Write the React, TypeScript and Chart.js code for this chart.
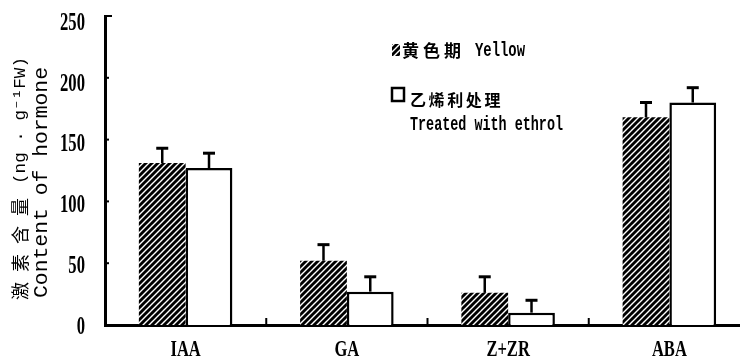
import React, { useEffect, useRef } from "react";
import { Chart, registerables } from "chart.js";

Chart.register(...registerables);

// Hormone content per category, yellow stage vs. ethrel-treated fruit
const categories = ["IAA", "GA", "Z+ZR", "ABA"];
const yellowValues = [131, 52, 26, 168];
const yellowErrors = [12, 13, 13, 12];
const ethrolValues = [127, 27, 10, 180];
const ethrolErrors = [12, 12, 10, 12];
const yTickValues = [0, 50, 100, 150, 200, 250];

const legendYellowCn = "黄色期";
const legendYellowEn = "Yellow";
const legendEthrolCn = "乙烯利处理";
const legendEthrolEn = "Treated with ethrol";
const yTitleCn = "激素含量";
const yTitleUnit = "(ng · g⁻¹FW)";
const yTitleEn = "Content of hormone";

const SERIF = '"Liberation Serif", "Times New Roman", serif';
const MONO = '"Liberation Mono", "DejaVu Sans Mono", monospace';
const CJK = '"Noto Sans CJK SC", sans-serif';

function makeHatch(): CanvasPattern | string {
  const tile = document.createElement("canvas");
  tile.width = 6;
  tile.height = 6;
  const c = tile.getContext("2d");
  if (!c) return "#000";
  c.fillStyle = "#000";
  c.fillRect(0, 0, 6, 6);
  c.strokeStyle = "#fff";
  c.lineWidth = 1.4;
  c.beginPath();
  c.moveTo(-1, 7);
  c.lineTo(7, -1);
  c.moveTo(-1, 1);
  c.lineTo(1, -1);
  c.moveTo(5, 7);
  c.lineTo(7, 5);
  c.stroke();
  const p = c.createPattern(tile, "repeat");
  return p || "#000";
}

// text squeezed horizontally by factor sx
function drawScaled(
  ctx: CanvasRenderingContext2D,
  text: string,
  x: number,
  y: number,
  font: string,
  sx: number,
  align: CanvasTextAlign
) {
  ctx.save();
  ctx.font = font;
  ctx.textAlign = align;
  ctx.textBaseline = "middle";
  ctx.translate(x, y);
  ctx.scale(sx, 1);
  ctx.fillText(text, 0, 0);
  ctx.restore();
}

// text fitted to a given width, starting at x
function drawFit(
  ctx: CanvasRenderingContext2D,
  text: string,
  x: number,
  y: number,
  font: string,
  width: number
) {
  ctx.save();
  ctx.font = font;
  const w = ctx.measureText(text).width || 1;
  ctx.textAlign = "left";
  ctx.textBaseline = "middle";
  ctx.translate(x, y);
  ctx.scale(width / w, 1);
  ctx.fillText(text, 0, 0);
  ctx.restore();
}

function drawSpacedChars(
  ctx: CanvasRenderingContext2D,
  text: string,
  x: number,
  y: number,
  font: string,
  step: number
) {
  ctx.save();
  ctx.font = font;
  ctx.textAlign = "left";
  ctx.textBaseline = "middle";
  Array.from(text).forEach((ch, i) => ctx.fillText(ch, x + i * step, y));
  ctx.restore();
}

export default function App() {
  const canvasRef = useRef<HTMLCanvasElement | null>(null);

  useEffect(() => {
    const canvas = canvasRef.current;
    if (!canvas) return;
    const hatch = makeHatch();

    const decorations = {
      id: "decorations",
      afterDatasetsDraw(chart: any) {
        const ctx: CanvasRenderingContext2D = chart.ctx;
        const xs = chart.scales.x;
        const ys = chart.scales.y;
        const area = chart.chartArea;
        ctx.save();
        ctx.fillStyle = "#000";
        ctx.strokeStyle = "#000";

        // error bars (upper half only)
        const errs = [yellowErrors, ethrolErrors];
        const vals = [yellowValues, ethrolValues];
        [0, 1].forEach((d) => {
          const meta = chart.getDatasetMeta(d);
          meta.data.forEach((el: any, i: number) => {
            const top = ys.getPixelForValue(vals[d][i]);
            const tip = ys.getPixelForValue(vals[d][i] + errs[d][i]);
            ctx.lineWidth = 2.5;
            ctx.beginPath();
            ctx.moveTo(el.x, top);
            ctx.lineTo(el.x, tip);
            ctx.stroke();
            ctx.lineWidth = 3;
            ctx.beginPath();
            ctx.moveTo(el.x - 6, tip);
            ctx.lineTo(el.x + 6, tip);
            ctx.stroke();
          });
        });

        // inward y ticks
        ctx.lineWidth = 2;
        yTickValues.forEach((v) => {
          if (v === 0) return;
          const y = ys.getPixelForValue(v);
          ctx.beginPath();
          ctx.moveTo(area.left, y);
          ctx.lineTo(area.left + (v === 250 ? 7 : 4), y);
          ctx.stroke();
        });

        // category separators on x axis
        for (let i = 0; i < categories.length - 1; i++) {
          const x = (xs.getPixelForTick(i) + xs.getPixelForTick(i + 1)) / 2;
          ctx.beginPath();
          ctx.moveTo(x, area.bottom);
          ctx.lineTo(x, area.bottom - 7);
          ctx.stroke();
        }

        // tick labels
        yTickValues.forEach((v) => {
          const y = ys.getPixelForValue(v);
          drawScaled(ctx, String(v), 85, y + 2 + 5 * (v / 250), "bold 26px " + SERIF, 0.64, "right");
        });
        categories.forEach((c, i) => {
          drawScaled(ctx, c, xs.getPixelForTick(i), 350, "bold 23px " + SERIF, 0.72, "center");
        });

        // legend
        ctx.fillStyle = hatch as any;
        ctx.fillRect(392, 44, 8, 12);
        ctx.fillStyle = "#000";
        drawSpacedChars(ctx, legendYellowCn, 402, 51, "bold 17px " + CJK, 21);
        drawFit(ctx, legendYellowEn, 475, 51, "bold 20px " + MONO, 50);
        ctx.lineWidth = 2.5;
        ctx.strokeRect(392, 88, 12, 13);
        drawSpacedChars(ctx, legendEthrolCn, 410, 100, "bold 16px " + CJK, 18.6);
        drawFit(ctx, legendEthrolEn, 410, 125, "bold 20px " + MONO, 153);

        // rotated y title
        ctx.save();
        ctx.rotate(-Math.PI / 2);
        // rotated frame: x' = -y, y' = x
        drawSpacedChars(ctx, yTitleCn, -300, 20, "18px " + CJK, 28);
        drawFit(ctx, yTitleUnit, -184, 20, "17px " + MONO, 127);
        drawFit(ctx, yTitleEn, -298, 42, "20px " + MONO, 231);
        ctx.restore();

        ctx.restore();
      },
    };

    const chart = new Chart(canvas, {
      type: "bar",
      data: {
        labels: categories,
        datasets: [
          {
            label: legendYellowCn + " " + legendYellowEn,
            data: yellowValues,
            backgroundColor: hatch as any,
            borderWidth: 0,
            categoryPercentage: 0.58,
            barPercentage: 1,
          },
          {
            label: legendEthrolCn + " " + legendEthrolEn,
            data: ethrolValues,
            backgroundColor: "#fff",
            borderColor: "#000",
            borderWidth: 2.5,
            borderSkipped: "bottom",
            categoryPercentage: 0.58,
            barPercentage: 1,
          },
        ],
      },
      options: {
        responsive: false,
        animation: false,
        layout: { padding: { top: 16, left: 0, right: 0, bottom: 0 } },
        plugins: {
          legend: { display: false },
          tooltip: { enabled: false },
        },
        scales: {
          x: {
            grid: { display: false, drawTicks: false },
            border: { display: true, color: "#000", width: 3 },
            ticks: { display: false },
            afterFit: (s: any) => {
              s.height = 34;
            },
          },
          y: {
            min: 0,
            max: 250,
            grid: { display: false, drawTicks: false },
            border: { display: true, color: "#000", width: 3 },
            ticks: { display: false, stepSize: 50 },
            afterFit: (s: any) => {
              s.width = 105;
            },
          },
        },
      },
      plugins: [decorations],
    });

    return () => chart.destroy();
  }, []);

  return (
    <div
      style={{
        position: "fixed",
        left: 0,
        top: 0,
        width: 740,
        height: 359,
        overflow: "hidden",
        background: "#fff",
      }}
    >
      <canvas ref={canvasRef} width={750} height={359} style={{ width: 750, height: 359, display: "block" }} />
    </div>
  );
}
